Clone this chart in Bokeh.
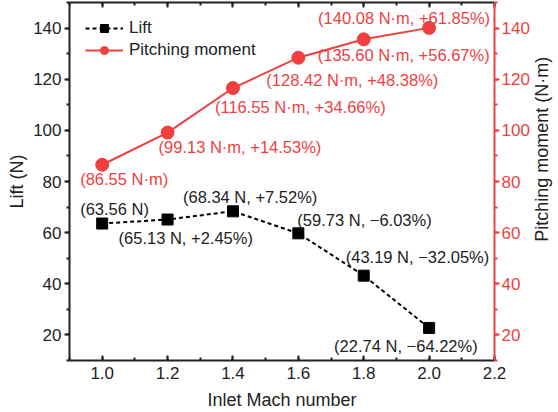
import math

from bokeh.plotting import figure
from bokeh.layouts import row
from bokeh.models import (Range1d, LinearAxis, Legend, LegendItem, ColumnDataSource, Label,
                          SingleIntervalTicker, PrintfTickFormatter, CustomJSTickFormatter)
from bokeh.core.properties import value
from bokeh.embed import file_html
from bokeh.resources import INLINE

# Data
mach = [1.0, 1.2, 1.4, 1.6, 1.8, 2.0]
lift = [63.56, 65.13, 68.34, 59.73, 43.19, 22.74]
moment = [86.55, 99.13, 116.55, 128.42, 135.60, 140.08]
lift_labels = ["(63.56 N)", "(65.13 N, +2.45%)", "(68.34 N, +7.52%)",
               "(59.73 N, \u22126.03%)", "(43.19 N, \u221232.05%)", "(22.74 N, \u221264.22%)"]
moment_labels = ["(86.55 N\u00b7m)", "(99.13 N\u00b7m, +14.53%)", "(116.55 N\u00b7m, +34.66%)",
                 "(128.42 N\u00b7m, +48.38%)", "(135.60 N\u00b7m, +56.67%)", "(140.08 N\u00b7m, +61.85%)"]

# label placement (screen pixels relative to each marker)
lift_dx = [-22, -49, -50, -1, -18, -95]
lift_dy = [-15, 18, -14, -13, -19, 18]
moment_dx = [-22, -9, -18, -32, -46, -111]
moment_dy = [14, 14, 19, 22, 16, -10]

FONT = "Liberation Sans"
RED = "#ef3f3f"
INK = "#222222"
FW, FH = 425, 358
H = 412

p = figure(frame_width=FW, frame_height=FH,
           x_range=Range1d(0.9, 2.2), y_range=Range1d(10, 150),
           output_backend="svg", toolbar_location=None,
           min_border_left=69, min_border_right=38, min_border_top=2, min_border_bottom=52)
p.extra_y_ranges = {"moment": Range1d(10, 150)}
p.outline_line_color = None
p.xgrid.visible = False
p.ygrid.visible = False
p.background_fill_color = "white"
p.border_fill_color = "white"

xt = SingleIntervalTicker(interval=0.2, num_minor_ticks=2)
yt = SingleIntervalTicker(interval=20, num_minor_ticks=2)


def style_axis(ax, color, tick_in, tick_out):
    ax.axis_line_color = color
    ax.axis_line_width = 2
    ax.major_tick_line_color = color
    ax.minor_tick_line_color = color
    ax.major_tick_line_width = 2
    ax.minor_tick_line_width = 2
    ax.major_tick_in = tick_in
    ax.major_tick_out = tick_out
    ax.minor_tick_in = 3 if tick_in else 0
    ax.minor_tick_out = 3 if tick_out else 0
    ax.major_label_text_font = FONT
    ax.major_label_text_color = color
    ax.major_label_text_font_size = "17px"
    ax.axis_label_text_font = FONT
    ax.axis_label_text_font_size = "18px"
    ax.axis_label_text_font_style = "normal"
    ax.axis_label_text_color = color


xaxis = p.xaxis[0]
xaxis.ticker = xt
xaxis.formatter = PrintfTickFormatter(format="%.1f")
xaxis.axis_label = "Inlet Mach number"
style_axis(xaxis, INK, 5, 0)
xaxis.major_label_standoff = 6
xaxis.axis_label_standoff = 8

yaxis = p.yaxis[0]
yaxis.ticker = yt
yaxis.axis_label = "Lift (N)"
style_axis(yaxis, INK, 0, 5)
yaxis.major_label_standoff = 3
yaxis.axis_label_standoff = 3

# top frame edge with inward ticks and no labels
top = LinearAxis(ticker=xt, formatter=CustomJSTickFormatter(code="return ''"))
style_axis(top, INK, 5, 0)
top.major_label_text_font_size = "0px"
top.major_label_standoff = 0
p.add_layout(top, "above")

right = LinearAxis(y_range_name="moment", ticker=yt)
style_axis(right, RED, 0, 5)
right.major_label_standoff = 2
p.add_layout(right, "right")

# Lift series
lift_src = ColumnDataSource(dict(x=mach, y=lift, t=lift_labels, dx=lift_dx, dy=lift_dy))
l_line = p.line("x", "y", source=lift_src, line_color="black", line_width=2, line_dash="4 3")
l_pts = p.scatter("x", "y", source=lift_src, marker="square", size=11,
                  fill_color="black", line_color="black")
p.text("x", "y", text="t", x_offset="dx", y_offset="dy", source=lift_src,
       text_font=value(FONT), text_font_size="16.5px", text_color=INK,
       text_align="left", text_baseline="middle")

# Pitching moment series
mom_src = ColumnDataSource(dict(x=mach, y=moment, t=moment_labels, dx=moment_dx, dy=moment_dy))
m_line = p.line("x", "y", source=mom_src, y_range_name="moment", line_color=RED, line_width=2)
m_pts = p.scatter("x", "y", source=mom_src, y_range_name="moment", marker="circle", size=13,
                  fill_color=RED, line_color=RED)
p.text("x", "y", text="t", x_offset="dx", y_offset="dy", source=mom_src, y_range_name="moment",
       text_font=value(FONT), text_font_size="16.5px", text_color=RED,
       text_align="left", text_baseline="middle")

legend = Legend(items=[LegendItem(label="Lift", renderers=[l_line, l_pts]),
                       LegendItem(label="Pitching moment", renderers=[m_line, m_pts])],
                location="top_left")
legend.margin = 16
legend.padding = 0
legend.glyph_width = 38
legend.glyph_height = 20
legend.label_height = 20
legend.spacing = 2
legend.label_standoff = 6
legend.label_text_font = FONT
legend.label_text_font_size = "17px"
legend.label_text_color = INK
legend.background_fill_alpha = 0
legend.border_line_color = None
p.add_layout(legend)

# narrow strip holding the right-hand axis title, reading bottom to top
SW = 26
strip = figure(width=SW, height=H, x_range=Range1d(0, SW), y_range=Range1d(0, H),
               x_axis_location=None, y_axis_location=None,
               output_backend="svg", toolbar_location=None, min_border=0)
strip.outline_line_color = None
strip.xgrid.visible = False
strip.ygrid.visible = False
strip.add_layout(Label(x=9, y=H - 169, text="Pitching moment (N\u00b7m)", angle=math.pi / 2,
                       text_align="center", text_baseline="middle",
                       text_font=FONT, text_font_size="18px", text_color=INK))

layout = row(p, strip, spacing=0)
open("out.html", "w").write(file_html(layout, INLINE))
